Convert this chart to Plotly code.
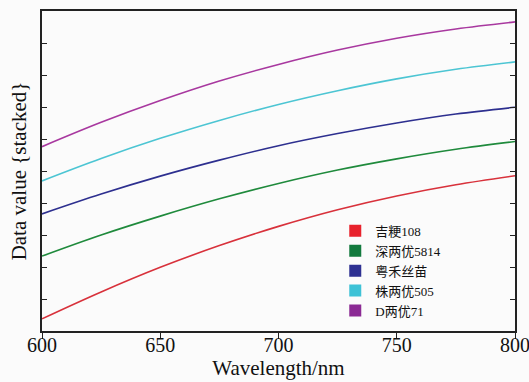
import plotly.graph_objects as go

wavelength = [600, 625, 650, 675, 700, 725, 750, 775, 800]

names = ["吉粳108", "深两优5814", "粤禾丝苗", "株两优505", "D两优71"]

# per-series values (stacked on top of each other)
v_jigeng108 = [0.38, 1.22, 1.99, 2.67, 3.27, 3.79, 4.22, 4.57, 4.85]
v_shen5814 = [1.96, 1.78, 1.60, 1.46, 1.34, 1.24, 1.16, 1.11, 1.07]
v_yuehe = [1.32, 1.28, 1.25, 1.21, 1.18, 1.14, 1.12, 1.10, 1.07]
v_zhu505 = [1.03, 1.11, 1.18, 1.24, 1.29, 1.34, 1.38, 1.40, 1.42]
v_d71 = [1.07, 1.13, 1.18, 1.23, 1.25, 1.27, 1.27, 1.26, 1.25]

series = [v_jigeng108, v_shen5814, v_yuehe, v_zhu505, v_d71]
line_colors = ["#d8313b", "#1f8a3c", "#2d2f8f", "#4cc5d3", "#a8389f"]
legend_colors = ["#e8222c", "#137a3e", "#2e3192", "#3ec2d6", "#8b2a94"]

x_ticks = [600, 650, 700, 750, 800]
y_ticks = [1, 2, 3, 4, 5, 6, 7, 8, 9]

fig = go.Figure()
for name, vals, col in zip(names, series, line_colors):
    fig.add_trace(go.Scatter(
        x=wavelength, y=vals, name=name, stackgroup="s", fill="none",
        mode="lines", line=dict(color=col, width=1.6, shape="spline", smoothing=1.0),
        showlegend=False,
    ))
for name, col in zip(names, legend_colors):
    fig.add_trace(go.Scatter(
        x=[None], y=[None], name=name, mode="markers",
        marker=dict(symbol="square", size=10, color=col), showlegend=True,
    ))

serif = "Liberation Serif, Noto Sans CJK SC, serif"
fig.update_layout(
    width=529, height=382,
    margin=dict(l=42, r=14, t=11, b=51),
    paper_bgcolor="#fbfbfb", plot_bgcolor="#fbfbfb",
    font=dict(family=serif, color="#111111"),
    legend=dict(x=0.62, y=0.016, xanchor="left", yanchor="bottom",
                bgcolor="rgba(0,0,0,0)", font=dict(size=13, family=serif),
                itemsizing="constant", tracegroupgap=0),
)
fig.update_xaxes(
    range=[600, 800], tickvals=x_ticks, ticks="outside", ticklen=6,
    tickcolor="#222", showline=True, linecolor="#222", linewidth=1.5,
    mirror=True, showgrid=False, zeroline=False, automargin=False,
    ticklabeloverflow="allow", ticklabelstandoff=-11,
    tickfont=dict(size=20, family=serif),
    title=dict(text="Wavelength/nm", font=dict(size=21, family=serif), standoff=2),
)
fig.update_yaxes(
    range=[0, 10], tickvals=y_ticks, ticks="inside", ticklen=5,
    tickcolor="#222", showticklabels=False, showline=True, linecolor="#222",
    linewidth=1.5, mirror="ticks", showgrid=False, zeroline=False, automargin=False,
    title=dict(text="Data value {stacked}", font=dict(size=21, family=serif), standoff=8),
)
fig.write_html("out.html")
